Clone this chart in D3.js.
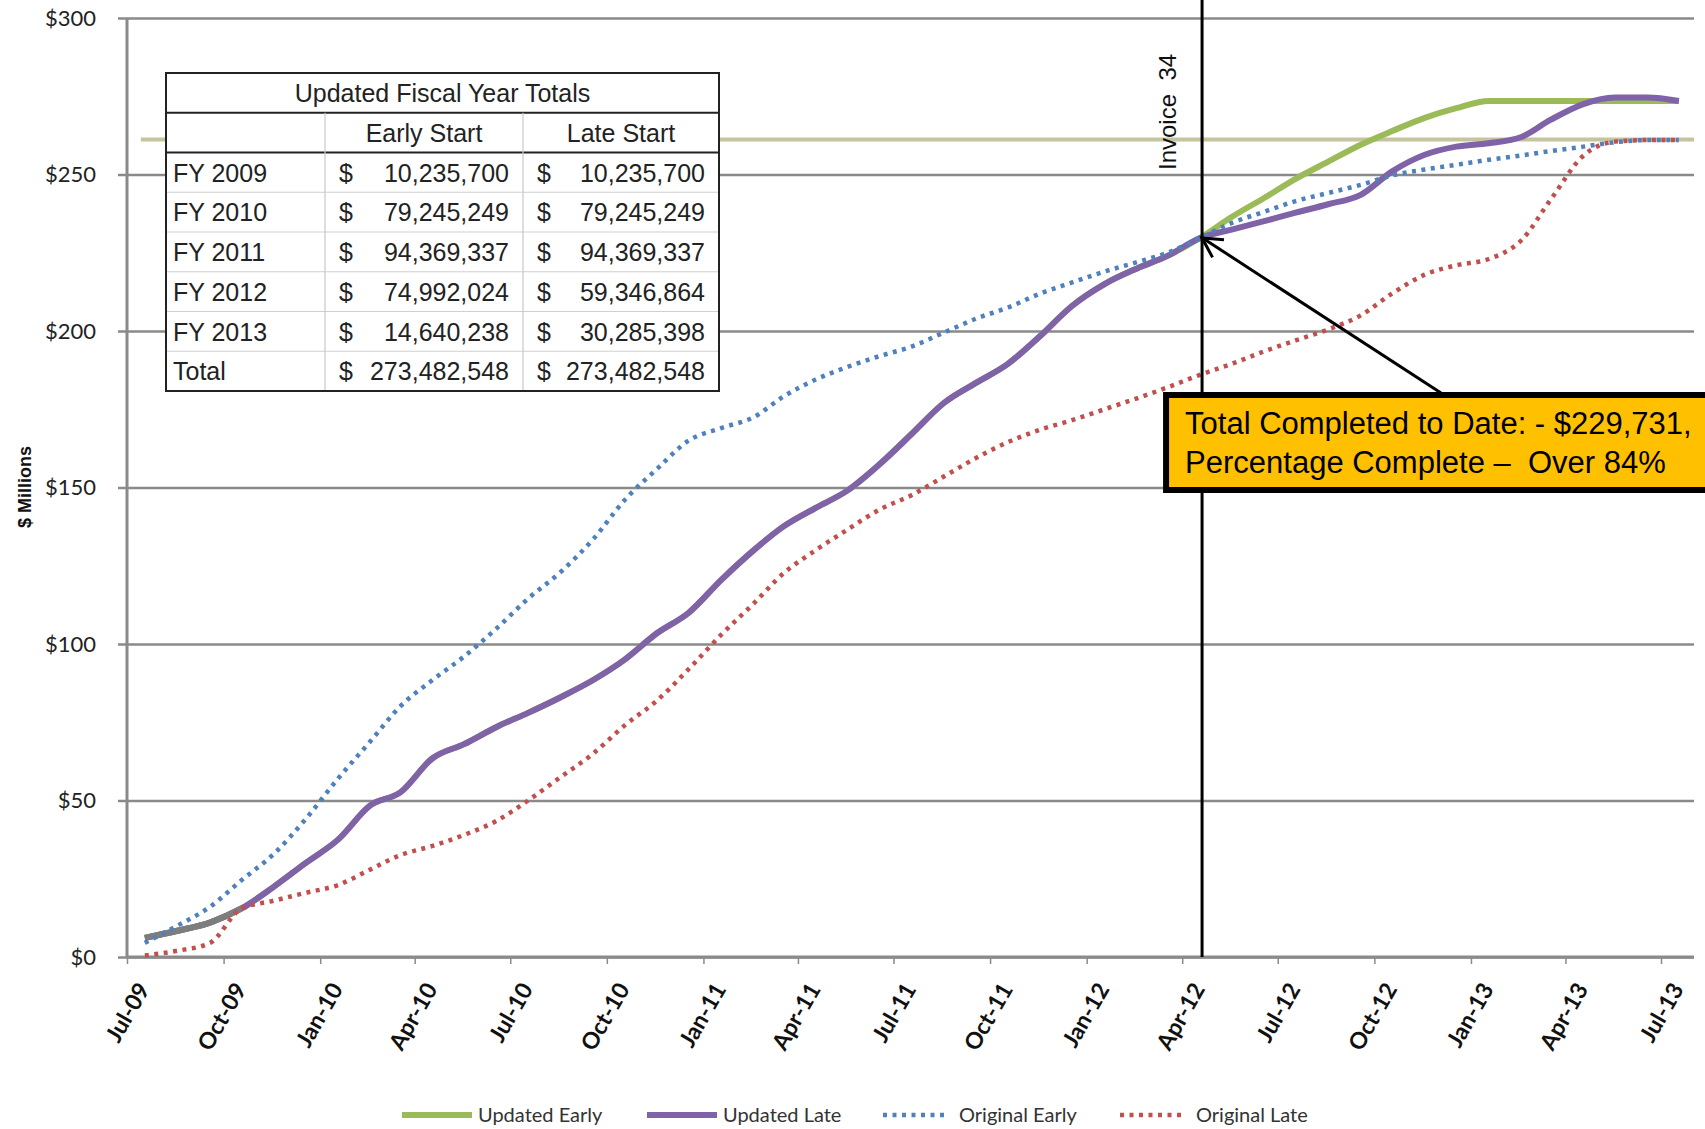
<!DOCTYPE html>
<html>
<head>
<meta charset="utf-8">
<script src="https://cdn.jsdelivr.net/npm/d3@7"></script>
<style>
  body { margin: 0; background: #fff; }
  text { font-family: "Liberation Sans", Arial, sans-serif; }
  .axis text, .legend text { font-family: Lato, "Open Sans", sans-serif; }
</style>
</head>
<body>
<div id="chart"></div>
<script>
// monthly points, Jul-09 .. Jul-13
const months = [
  "Jul-09","Aug-09","Sep-09","Oct-09","Nov-09","Dec-09","Jan-10","Feb-10","Mar-10","Apr-10","May-10","Jun-10",
  "Jul-10","Aug-10","Sep-10","Oct-10","Nov-10","Dec-10","Jan-11","Feb-11","Mar-11","Apr-11","May-11","Jun-11",
  "Jul-11","Aug-11","Sep-11","Oct-11","Nov-11","Dec-11","Jan-12","Feb-12","Mar-12","Apr-12","May-12","Jun-12",
  "Jul-12","Aug-12","Sep-12","Oct-12","Nov-12","Dec-12","Jan-13","Feb-13","Mar-13","Apr-13","May-13","Jun-13",
  "Jul-13"
];

// $ millions, cumulative
const updatedEarly = [
  6.1, 8.4, 11, 15.5, 22.5, 30, 37.5, 48.5, 52.5, 63.5, 68, 73.5,
  78, 83, 88.5, 95, 103.5, 110, 120.5, 130, 137.5, 143.5, 149, 157.5,
  167, 177, 183.5, 189.5, 198.5, 208, 215, 220, 224, 229.7, 236.4, 242.5,
  248.6, 254.1, 259.5, 263.9, 268.1, 271.2, 273.5, 273.5, 273.5, 273.5, 273.5, 273.5,
  273.5
];
const updatedLate = [
  6.1, 8.4, 11, 15.5, 22.5, 30, 37.5, 48.5, 52.5, 63.5, 68, 73.5,
  78, 83, 88.5, 95, 103.5, 110, 120.5, 130, 137.5, 143.5, 149, 157.5,
  167, 177, 183.5, 189.5, 198.5, 208, 215, 220, 224, 229.7, 232.4, 235.1,
  237.8, 240.5, 243.5, 251, 256.3, 258.9, 260, 262, 267.5, 272.5, 274.6, 274.6,
  273.5
];
const originalEarly = [
  4.5, 10, 16, 24.5, 33, 44, 57, 69, 80, 88.5, 96, 105,
  114.5, 123, 133.5, 146, 156, 165, 169, 172.5, 179, 184.5, 188.5, 192,
  195, 199.5, 204, 207.5, 212, 215.5, 219, 222, 225, 229.7, 234.5, 238.1,
  241.5, 244.1, 246.7, 249.7, 251.6, 253.1, 254.7, 256.1, 257.5, 258.9, 260.3, 261,
  261
];
const originalLate = [
  0.5, 2, 4.5, 15.5, 18, 20.5, 23, 28, 32.5, 35.5, 39, 43.5,
  50, 57.5, 65, 74, 82, 92, 103, 113, 122.5, 130, 136.5, 143,
  147.5, 153.5, 159.5, 164.5, 168.5, 171.5, 175, 178.5, 182, 186, 189.5, 193.5,
  197, 200.5, 205, 212, 218, 221, 223, 229, 242, 256, 260.5, 261,
  261
];
const originalTotal = 261.2;

const yTicks = [0, 50, 100, 150, 200, 250, 300];
const xTickLabels = ["Jul-09","Oct-09","Jan-10","Apr-10","Jul-10","Oct-10","Jan-11","Apr-11","Jul-11",
  "Oct-11","Jan-12","Apr-12","Jul-12","Oct-12","Jan-13","Apr-13","Jul-13"];

const fiscalYears = ["FY 2009", "FY 2010", "FY 2011", "FY 2012", "FY 2013", "Total"];
const earlyStart = ["10,235,700", "79,245,249", "94,369,337", "74,992,024", "14,640,238", "273,482,548"];
const lateStart = ["10,235,700", "79,245,249", "94,369,337", "59,346,864", "30,285,398", "273,482,548"];

const seriesNames = ["Updated Early", "Updated Late", "Original Early", "Original Late"];
const invoiceIndex = 33;

function chart(id) {
  const width = 1705;
  const height = 1129;
  const margin = { top: 18, right: 11, bottom: 172, left: 127 };

  const svg = d3
    .select(`#${id}`)
    .append("svg")
    .attr("width", width)
    .attr("height", height);

  const parse = d3.timeParse("%b-%y");
  const dates = months.map((m) => d3.timeDay.offset(parse(m), 17));
  const tickDates = xTickLabels.map((m) => parse(m));

  const x = d3
    .scaleTime()
    .domain([tickDates[0], tickDates[tickDates.length - 1]])
    .range([margin.left, 1661]);

  const y = d3
    .scaleLinear()
    .domain([0, 300])
    .range([height - margin.bottom, margin.top]);

  const plotRight = width - margin.right;

  // gridlines + y labels
  const yAxis = svg
    .append("g")
    .attr("class", "axis")
    .attr("transform", "translate(118,0)")
    .call(d3.axisLeft(y).tickValues(yTicks).tickFormat((d) => "$" + d).tickSize(-(plotRight - 118)).tickPadding(22));
  yAxis.select(".domain").remove();
  yAxis.selectAll(".tick line").attr("stroke", "#8a8a8a").attr("stroke-width", 2.5);
  yAxis.selectAll(".tick text").attr("font-size", 22).attr("fill", "#222");

  // y axis line
  svg
    .append("line")
    .attr("x1", x.range()[0])
    .attr("x2", x.range()[0])
    .attr("y1", y(300))
    .attr("y2", y(0))
    .attr("stroke", "#8a8a8a")
    .attr("stroke-width", 3);

  // x axis
  const xAxis = svg
    .append("g")
    .attr("class", "axis")
    .attr("transform", `translate(0,${y(0)})`)
    .call(d3.axisBottom(x).tickValues(tickDates).tickFormat(d3.timeFormat("%b-%y")).tickSize(7));
  xAxis.select(".domain").remove();
  xAxis.selectAll(".tick line").attr("stroke", "#8a8a8a").attr("stroke-width", 1.5);
  xAxis
    .selectAll(".tick text")
    .attr("font-size", 23)
    .attr("font-weight", "bold")
    .attr("fill", "#111")
    .attr("text-anchor", "end")
    .attr("dy", null)
    .attr("y", null)
    .attr("transform", "translate(23,32) rotate(-60)");

  svg
    .append("line")
    .attr("x1", x.range()[0])
    .attr("x2", plotRight)
    .attr("y1", y(0))
    .attr("y2", y(0))
    .attr("stroke", "#8a8a8a")
    .attr("stroke-width", 3);

  // original total reference line
  svg
    .append("line")
    .attr("x1", x(dates[0]) - 4)
    .attr("x2", plotRight)
    .attr("y1", y(originalTotal))
    .attr("y2", y(originalTotal))
    .attr("stroke", "#c6c49c")
    .attr("stroke-width", 4);

  const line = d3
    .line()
    .x((d, i) => x(dates[i]))
    .y((d) => y(d))
    .curve(d3.curveMonotoneX);

  svg
    .append("path")
    .datum(updatedEarly)
    .attr("fill", "none")
    .attr("stroke", "#9bbb59")
    .attr("stroke-width", 6)
    .attr("stroke-linejoin", "round")
    .attr("d", line);

  svg
    .append("path")
    .datum(updatedLate)
    .attr("fill", "none")
    .attr("stroke", "#7f62a8")
    .attr("stroke-width", 6)
    .attr("stroke-linejoin", "round")
    .attr("d", line);

  // the first months show grey in the source
  svg
    .append("path")
    .datum(updatedLate.slice(0, 4))
    .attr("fill", "none")
    .attr("stroke", "#7d7d7d")
    .attr("stroke-width", 6)
    .attr("stroke-linejoin", "round")
    .attr("d", line);

  svg
    .append("path")
    .datum(originalEarly)
    .attr("fill", "none")
    .attr("stroke", "#4f81bd")
    .attr("stroke-width", 4.5)
    .attr("stroke-dasharray", "4,5.5")
    .attr("d", line);

  svg
    .append("path")
    .datum(originalLate)
    .attr("fill", "none")
    .attr("stroke", "#c0504d")
    .attr("stroke-width", 4.5)
    .attr("stroke-dasharray", "4,5.5")
    .attr("d", line);

  // invoice marker
  const ix = x(dates[invoiceIndex]) + 2;
  svg
    .append("line")
    .attr("x1", ix)
    .attr("x2", ix)
    .attr("y1", 0)
    .attr("y2", y(0))
    .attr("stroke", "#000")
    .attr("stroke-width", 3);

  svg
    .append("text")
    .attr("transform", `translate(${ix - 26},170) rotate(-90)`)
    .attr("font-size", 24)
    .style("white-space", "pre")
    .attr("fill", "#111")
    .text("Invoice  34");

  // table of fiscal year totals
  const tbl = { left: 166, right: 719, top: 73, row: 39.75 };
  const colA = 325;
  const colB = 523;
  const tblBottom = tbl.top + tbl.row * 8;
  const t = svg.append("g");

  t.append("rect")
    .attr("x", tbl.left)
    .attr("y", tbl.top)
    .attr("width", tbl.right - tbl.left)
    .attr("height", tblBottom - tbl.top)
    .attr("fill", "#fff");

  t.selectAll(".rowline")
    .data(d3.range(2, 8))
    .enter()
    .append("line")
    .attr("class", "rowline")
    .attr("x1", tbl.left)
    .attr("x2", tbl.right)
    .attr("y1", (d) => tbl.top + d * tbl.row)
    .attr("y2", (d) => tbl.top + d * tbl.row)
    .attr("stroke", (d) => (d == 2 ? "#222" : "#d0d0d0"))
    .attr("stroke-width", (d) => (d == 2 ? 2 : 1.2));

  t.append("line")
    .attr("x1", tbl.left)
    .attr("x2", tbl.right)
    .attr("y1", tbl.top + tbl.row)
    .attr("y2", tbl.top + tbl.row)
    .attr("stroke", "#222")
    .attr("stroke-width", 2);

  t.selectAll(".colline")
    .data([colA, colB])
    .enter()
    .append("line")
    .attr("class", "colline")
    .attr("x1", (d) => d)
    .attr("x2", (d) => d)
    .attr("y1", tbl.top + tbl.row)
    .attr("y2", tblBottom)
    .attr("stroke", "#c8c8c8")
    .attr("stroke-width", 1.2);

  t.append("rect")
    .attr("x", tbl.left)
    .attr("y", tbl.top)
    .attr("width", tbl.right - tbl.left)
    .attr("height", tblBottom - tbl.top)
    .attr("fill", "none")
    .attr("stroke", "#222")
    .attr("stroke-width", 2);

  const fs = 25;
  t.append("text")
    .attr("x", (tbl.left + tbl.right) / 2)
    .attr("y", tbl.top + 29)
    .attr("text-anchor", "middle")
    .attr("font-size", fs)
    .attr("fill", "#222")
    .text("Updated Fiscal Year Totals");

  t.selectAll(".colhead")
    .data(["Early Start", "Late Start"])
    .enter()
    .append("text")
    .attr("x", (d, i) => (i == 0 ? (colA + colB) / 2 : (colB + tbl.right) / 2))
    .attr("y", tbl.top + tbl.row + 29)
    .attr("text-anchor", "middle")
    .attr("font-size", fs)
    .attr("fill", "#222")
    .text((d) => d);

  t.selectAll(".fy")
    .data(fiscalYears)
    .enter()
    .append("text")
    .attr("x", tbl.left + 7)
    .attr("y", (d, i) => tbl.top + tbl.row * (i + 2) + 29)
    .attr("font-size", fs)
    .attr("fill", "#222")
    .text((d) => d);

  [earlyStart, lateStart].forEach((vals, c) => {
    const left = c == 0 ? colA : colB;
    const right = c == 0 ? colB : tbl.right;
    t.selectAll(".dollar" + c)
      .data(vals)
      .enter()
      .append("text")
      .attr("x", left + 14)
      .attr("y", (d, i) => tbl.top + tbl.row * (i + 2) + 29)
      .attr("font-size", fs)
      .attr("fill", "#222")
      .text("$");
    t.selectAll(".num" + c)
      .data(vals)
      .enter()
      .append("text")
      .attr("x", right - 14)
      .attr("y", (d, i) => tbl.top + tbl.row * (i + 2) + 29)
      .attr("text-anchor", "end")
      .attr("font-size", fs)
      .attr("fill", "#222")
      .text((d) => d);
  });

  // arrow + callout
  const tipX = ix;
  const tipY = y(updatedLate[invoiceIndex]);
  const tailX = tipX + 239;
  const tailY = 393;
  svg
    .append("line")
    .attr("x1", tailX)
    .attr("y1", tailY)
    .attr("x2", tipX + 2)
    .attr("y2", tipY + 1)
    .attr("stroke", "#000")
    .attr("stroke-width", 3);
  const ang = Math.atan2(tailY - tipY, tailX - tipX);
  const head = [ang - 0.5, ang + 0.5].map((a) => [tipX + 22 * Math.cos(a), tipY + 22 * Math.sin(a)]);
  svg
    .append("polyline")
    .attr("points", [head[0], [tipX, tipY], head[1]].map((p) => p.join(",")).join(" "))
    .attr("fill", "none")
    .attr("stroke", "#000")
    .attr("stroke-width", 3);

  svg
    .append("rect")
    .attr("x", tipX - 36)
    .attr("y", 395)
    .attr("width", 700)
    .attr("height", 95)
    .attr("fill", "#ffc000")
    .attr("stroke", "#000")
    .attr("stroke-width", 6);

  svg
    .selectAll(".callout")
    .data(["Total Completed to Date: - $229,731,", "Percentage Complete \u2013  Over 84%"])
    .enter()
    .append("text")
    .attr("class", "callout")
    .attr("x", tipX - 17)
    .attr("y", (d, i) => 434 + i * 39)
    .attr("font-size", 31)
    .style("white-space", "pre")
    .attr("fill", "#000")
    .text((d) => d);

  // y title
  svg
    .append("text")
    .attr("transform", "translate(31,487) rotate(-90)")
    .attr("text-anchor", "middle")
    .attr("font-size", 18)
    .attr("font-weight", "bold")
    .attr("fill", "#111")
    .text("$ Millions");

  // legend
  const legX = [402, 647, 883, 1120];
  const legColors = ["#9bbb59", "#7f62a8", "#4f81bd", "#c0504d"];
  const leg = svg
    .selectAll(".legend")
    .data(seriesNames)
    .enter()
    .append("g")
    .attr("class", "legend")
    .attr("transform", (d, i) => `translate(${legX[i]},1115)`);
  leg
    .append("line")
    .attr("x1", 0)
    .attr("x2", (d, i) => (i < 2 ? 70 : 64))
    .attr("stroke", (d, i) => legColors[i])
    .attr("stroke-width", (d, i) => (i < 2 ? 6 : 4.5))
    .attr("stroke-dasharray", (d, i) => (i < 2 ? null : "4,5.5"));
  leg
    .append("text")
    .attr("x", 76)
    .attr("y", 7)
    .attr("font-size", 20)
    .attr("fill", "#333")
    .text((d) => d);
}

chart("chart");
</script>
</body>
</html>
